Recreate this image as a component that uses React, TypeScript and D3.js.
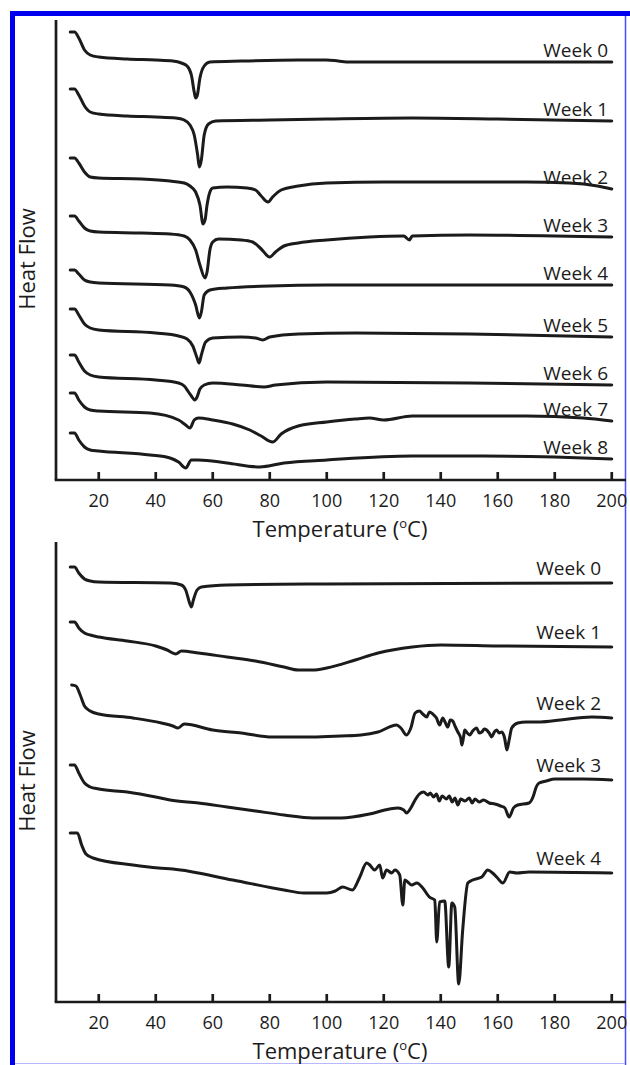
import React from "react";
import * as d3 from "d3";

type Pt = [number, number];

// x axis ticks (temperature, °C)
const xTicks = [20, 40, 60, 80, 100, 120, 140, 160, 180, 200];

const topLabels = ["Week 0", "Week 1", "Week 2", "Week 3", "Week 4", "Week 5", "Week 6", "Week 7", "Week 8"];
const bottomLabels = ["Week 0", "Week 1", "Week 2", "Week 3", "Week 4"];

// heat flow traces, [temperature, heat flow (a.u., stacked)]
// upper panel
const topWeek0: Pt[] = [
  [10, 44.8], [11.5, 44.8], [13, 44.2], [15, 43.0], [17, 42.5], [20, 42.3], [30, 42.1], [40, 42.0],
  [46, 41.9], [49, 41.7], [51, 41.4], [52.5, 40.5], [53.5, 38.8], [54, 38.2], [54.6, 38.5], [55.5, 40.2],
  [57, 41.4], [59, 41.8], [70, 41.9], [90, 42.0], [100, 42.0], [104, 41.9], [108, 41.8], [150, 41.8], [200, 41.8],
];
const topWeek1: Pt[] = [
  [10, 39.1], [11.5, 39.1], [13, 38.5], [15, 37.4], [17, 36.8], [20, 36.6], [30, 36.4], [40, 36.3],
  [47, 36.2], [50, 36.0], [52, 35.5], [53.5, 34.5], [54.7, 32.5], [55.3, 31.3], [56, 32.0], [57, 34.5],
  [58.5, 35.6], [61, 35.9], [80, 36.0], [100, 36.1], [130, 36.2], [160, 36.1], [200, 35.9],
];
const topWeek2: Pt[] = [
  [10, 32.2], [11.5, 32.2], [13, 31.7], [15, 30.8], [17, 30.3], [20, 30.2], [35, 30.1], [45, 29.9],
  [50, 29.7], [52, 29.4], [54, 28.8], [55.5, 27.5], [56.6, 25.6], [57.3, 26.0], [58, 27.5], [59, 28.8],
  [60, 29.2], [65, 29.3], [72, 29.2], [75, 29.0], [77, 28.4], [79.4, 27.8], [81, 28.3], [84, 29.0],
  [90, 29.4], [100, 29.7], [120, 29.8], [170, 29.8], [185, 29.7], [195, 29.4], [200, 29.1],
];
const topWeek3: Pt[] = [
  [10, 26.4], [11.5, 26.4], [13, 25.9], [15, 25.2], [17, 24.9], [20, 24.8], [35, 24.7], [45, 24.6],
  [50, 24.4], [52, 24.0], [54, 23.0], [55.5, 21.5], [57.3, 20.2], [58, 20.8], [59, 23.0], [60, 23.8],
  [62, 24.1], [70, 24.0], [74, 23.8], [77, 23.1], [80, 22.3], [82, 22.8], [85, 23.4], [90, 23.7],
  [100, 24.0], [115, 24.3], [127, 24.4], [129, 24.0], [130, 24.4], [150, 24.5], [200, 24.3],
];
const topWeek4: Pt[] = [
  [10, 21.0], [11.5, 21.0], [13, 20.6], [15, 20.0], [17, 19.8], [20, 19.7], [45, 19.5], [50, 19.3],
  [52, 18.8], [54, 17.5], [55.3, 16.2], [56, 16.8], [57, 18.5], [59, 19.0], [65, 19.2], [80, 19.4],
  [100, 19.5], [200, 19.5],
];
const topWeek5: Pt[] = [
  [10, 17.1], [11.5, 17.1], [13, 16.5], [15, 15.6], [17, 15.2], [20, 15.0], [40, 14.7], [48, 14.4],
  [51, 14.1], [53, 13.4], [54.5, 12.2], [55.2, 11.7], [56, 12.5], [57.5, 13.8], [60, 14.2], [70, 14.3],
  [75, 14.2], [77.5, 14.0], [80, 14.3], [90, 14.6], [110, 14.7], [150, 14.6], [200, 14.3],
];
const topWeek6: Pt[] = [
  [10, 12.5], [11.5, 12.5], [13, 11.8], [15, 10.9], [17, 10.5], [20, 10.3], [40, 10.0], [48, 9.7],
  [50, 9.4], [51.5, 8.8], [52.5, 8.4], [53.7, 8.0], [54.5, 8.3], [55.5, 9.1], [57, 9.5], [60, 9.7],
  [70, 9.5], [78, 9.3], [82, 9.5], [100, 9.8], [150, 9.7], [200, 9.5],
];
const topWeek7: Pt[] = [
  [10, 8.7], [11.5, 8.7], [13, 8.0], [15, 7.3], [17, 7.0], [20, 6.9], [38, 6.7], [48, 6.0],
  [50.5, 5.5], [52, 5.2], [53.5, 6.0], [55, 6.2], [60, 6.0], [67, 5.6], [73, 5.0], [77, 4.4],
  [81, 3.8], [84, 4.6], [90, 5.4], [100, 5.8], [110, 6.1], [115, 6.2], [120, 6.0], [130, 6.4],
  [170, 6.4], [190, 6.2], [200, 5.9],
];
const topWeek8: Pt[] = [
  [10, 4.7], [11.5, 4.7], [13, 4.0], [15, 3.3], [17, 3.0], [20, 2.9], [38, 2.5], [45, 2.2],
  [48, 1.8], [50.5, 1.2], [52.5, 2.0], [55, 2.0], [65, 1.7], [76.5, 1.3], [85, 1.7], [100, 2.0],
  [130, 2.4], [155, 2.4], [180, 2.3], [200, 2.1],
];

// lower panel
const bottomWeek0: Pt[] = [
  [10, 43.5], [11.5, 43.5], [13, 42.9], [15, 42.3], [17, 42.1], [20, 42.0], [45, 41.9], [49, 41.7],
  [50.5, 41.2], [52, 39.8], [52.5, 39.5], [53.2, 40.2], [54.5, 41.2], [56, 41.5], [65, 41.7],
  [100, 41.8], [200, 41.9],
];
const bottomWeek1: Pt[] = [
  [10, 38.0], [11.5, 38.0], [13, 37.4], [15, 36.9], [17, 36.7], [20, 36.5], [30, 36.1], [40, 35.6],
  [44, 35.2], [47, 34.8], [49, 35.1], [55, 34.9], [65, 34.5], [75, 34.1], [85, 33.5], [90, 33.2],
  [95, 33.2], [100, 33.4], [110, 34.2], [118, 34.9], [130, 35.5], [140, 35.7], [160, 35.6], [200, 35.5],
];
const bottomWeek2: Pt[] = [
  [10.5, 31.7], [12, 31.6], [13.5, 30.7], [15, 29.6], [17, 29.1], [20, 28.8], [32, 28.4], [42, 27.9],
  [46, 27.6], [47.8, 27.4], [50, 27.8], [60, 27.2], [70, 26.9], [81, 26.5], [95, 26.5], [105, 26.6],
  [112, 26.7], [118, 27.0], [124.5, 27.7], [126, 27.4], [128, 26.7], [129.5, 27.4], [131, 28.9],
  [132.5, 29.1], [133.7, 28.8], [135.1, 28.5], [136, 29.0], [137.2, 28.8], [138.5, 28.4], [139.6, 27.7],
  [140.7, 28.4], [141.5, 28.0], [142.5, 27.5], [143.3, 28.2], [144.2, 28.1], [145, 27.6], [146, 27.0],
  [147, 26.4], [147.4, 25.7], [148, 26.5], [148.4, 27.2], [149.3, 26.9], [150.2, 26.7], [151.2, 27.1],
  [152.6, 27.4], [153.5, 26.9], [154.4, 27.0], [155.3, 27.3], [156.1, 27.2], [157, 26.9], [157.9, 26.5],
  [158.8, 27.0], [159.6, 27.2], [160.5, 26.9], [161.4, 27.0], [162.4, 26.4], [163.2, 25.2], [164, 26.2],
  [164.9, 27.4], [167, 27.9], [170, 28.0], [175, 28.0], [182, 28.2], [193, 28.5], [200, 28.4],
];
const bottomWeek3: Pt[] = [
  [10, 23.7], [11.5, 23.7], [13, 22.9], [15, 21.9], [17, 21.5], [20, 21.3], [30, 21.0], [40, 20.5],
  [45, 20.2], [55, 19.9], [65, 19.5], [75, 19.1], [85, 18.7], [95, 18.4], [105, 18.4], [115, 18.8],
  [122, 19.3], [125, 19.4], [127, 19.2], [128, 18.9], [129.5, 19.4], [131, 20.2], [132.5, 20.8],
  [134, 21.0], [135.5, 20.7], [136.3, 20.9], [137.5, 20.5], [138.5, 20.8], [139.5, 20.1], [140.5, 20.6],
  [142, 20.3], [143, 20.6], [144, 20.0], [145, 20.4], [146, 19.7], [147, 20.3], [148.5, 20.1],
  [150, 20.4], [151, 19.9], [152, 20.3], [153.5, 20.0], [155, 20.2], [157, 19.9], [159, 19.8],
  [161, 19.6], [162.5, 19.4], [164, 18.5], [165.5, 19.4], [167, 19.7], [171, 19.9], [172.5, 20.6],
  [173.5, 21.5], [174.5, 21.9], [177, 22.1], [180, 22.3], [190, 22.3], [200, 22.2],
];
const bottomWeek4: Pt[] = [
  [10, 16.9], [12.5, 16.9], [14, 15.7], [15.5, 14.8], [18, 14.4], [32, 13.7], [41, 13.4], [46, 13.3],
  [67, 12.2], [85, 11.2], [92, 10.9], [100, 10.9], [103, 11.1], [105.6, 11.5], [109, 11.2], [111.6, 12.5],
  [114, 13.9], [115.1, 13.7], [116.8, 13.2], [118.6, 13.7], [119.6, 12.4], [121, 13.2], [122.8, 12.9],
  [123.9, 13.2], [125.6, 12.7], [126.7, 9.7], [127.4, 12.2], [128.4, 12.0], [129.8, 11.7], [131.6, 11.9],
  [133.7, 11.4], [136, 10.5], [137.9, 10.2], [138.6, 6.0], [139.6, 10.0], [141.4, 10.1], [142.8, 3.5],
  [143.9, 9.9], [144.9, 9.5], [146.3, 1.8], [147.7, 7.2], [149.5, 11.9], [151.2, 12.2], [154.4, 12.5],
  [156.5, 13.2], [158.2, 12.9], [159.6, 12.5], [161.8, 11.9], [164.2, 13.0], [166.7, 12.9], [171, 13.0],
  [200, 12.9],
];

const topSeries = [topWeek0, topWeek1, topWeek2, topWeek3, topWeek4, topWeek5, topWeek6, topWeek7, topWeek8];
const bottomSeries = [bottomWeek0, bottomWeek1, bottomWeek2, bottomWeek3, bottomWeek4];

const WIDTH = 630;
const HEIGHT = 1065;
const FONT = "'Open Sans', 'DejaVu Sans', sans-serif";
const INK = "#1b1b1b";
const BLUE = "#0000ee";

const x = d3.scaleLinear().domain([5, 205]).range([56, 626]);

type PanelProps = {
  top: number;
  bottom: number;
  series: Pt[][];
  labels: string[];
  labelX: number;
  labelGap: number;
};

const Panel = ({ top, bottom, series, labels, labelX, labelGap }: PanelProps) => {
  const y = d3.scaleLinear().domain([0, 46]).range([bottom, top]);
  const line = d3
    .line<Pt>()
    .x((d) => x(d[0]))
    .y((d) => y(d[1]))
    .curve(d3.curveMonotoneX);

  // axis title sits a little below the panel middle
  const midY = top + (bottom - top) / 2 + 9;

  return (
    <g>
      {/* axes */}
      <line x1={x(5)} x2={x(5)} y1={top} y2={bottom} stroke={INK} strokeWidth={2.7} />
      <line x1={x(5) - 1.3} x2={x(205)} y1={bottom} y2={bottom} stroke={INK} strokeWidth={2.7} />
      {xTicks.map((t) => (
        <g key={t}>
          <line x1={x(t)} x2={x(t)} y1={bottom} y2={bottom - 8} stroke={INK} strokeWidth={2.7} />
          <text
            x={x(t)}
            y={bottom + 27}
            textAnchor="middle"
            fontFamily={FONT}
            fontSize={18}
            fill={INK}
          >
            {t}
          </text>
        </g>
      ))}
      <text x={340} y={bottom + 57} textAnchor="middle" fontFamily={FONT} fontSize={22} fill={INK}>
        Temperature (
        <tspan fontSize={13} dy={-9}>
          o
        </tspan>
        <tspan dy={9}>C)</tspan>
      </text>
      <text
        transform={`translate(35,${midY}) rotate(-90)`}
        textAnchor="middle"
        fontFamily={FONT}
        fontSize={22}
        fill={INK}
      >
        Heat Flow
      </text>

      {/* traces */}
      {series.map((s, i) => (
        <g key={labels[i]}>
          <path
            d={line(s) ?? ""}
            fill="none"
            stroke={INK}
            strokeWidth={3}
            strokeLinejoin="round"
            strokeLinecap="round"
          />
          <text
            x={labelX}
            y={y(s[s.length - 1][1]) - labelGap}
            textAnchor="end"
            fontFamily={FONT}
            fontSize={19}
            fill={INK}
          >
            {labels[i]}
          </text>
        </g>
      ))}
    </g>
  );
};

export default function App() {
  return (
    <div style={{ position: "absolute", left: 0, top: 0 }}>
      <svg width={WIDTH} height={HEIGHT} style={{ display: "block", background: "#fff" }}>
        <rect x={0} y={0} width={WIDTH} height={HEIGHT} fill="#fff" />
        {/* frame */}
        <rect x={10} y={11} width={620} height={5} fill={BLUE} />
        <rect x={10} y={11} width={5} height={1054} fill={BLUE} />
        <line x1={625.5} x2={625.5} y1={16} y2={1065} stroke="#4a4aff" strokeWidth={1.5} />
        <line x1={15} x2={625} y1={1063.5} y2={1063.5} stroke="#b8b8ff" strokeWidth={1} />

        <Panel top={20} bottom={480} series={topSeries} labels={topLabels} labelX={608} labelGap={5} />
        <Panel top={542} bottom={1002} series={bottomSeries} labels={bottomLabels} labelX={601} labelGap={8} />
      </svg>
    </div>
  );
}
